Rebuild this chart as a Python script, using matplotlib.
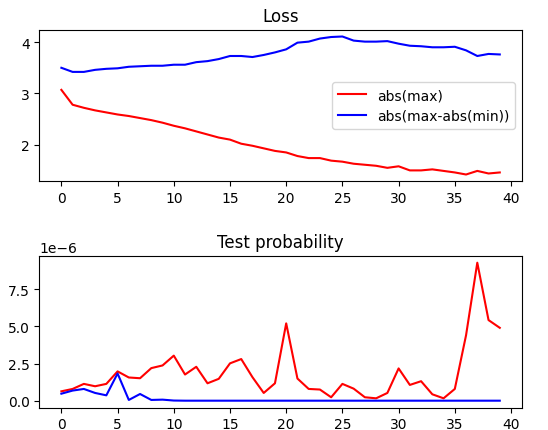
import matplotlib
matplotlib.use("Agg")
import matplotlib.pyplot as plt

epochs = list(range(40))

# Loss curves
loss_max = [3.07, 2.78, 2.72, 2.67, 2.63, 2.59, 2.56, 2.52, 2.48, 2.43,
            2.37, 2.32, 2.26, 2.20, 2.14, 2.10, 2.02, 1.98, 1.93, 1.88,
            1.85, 1.78, 1.74, 1.74, 1.69, 1.67, 1.63, 1.61, 1.59, 1.55,
            1.58, 1.50, 1.50, 1.52, 1.49, 1.46, 1.42, 1.49, 1.44, 1.46]
loss_diff = [3.50, 3.42, 3.42, 3.46, 3.48, 3.49, 3.52, 3.53, 3.54, 3.54,
             3.56, 3.56, 3.61, 3.63, 3.67, 3.73, 3.73, 3.71, 3.75, 3.80,
             3.86, 3.99, 4.01, 4.07, 4.10, 4.11, 4.03, 4.01, 4.01, 4.02,
             3.97, 3.93, 3.92, 3.90, 3.90, 3.91, 3.84, 3.73, 3.77, 3.76]

# Test probability (x 1e-6)
prob_max = [0.63, 0.79, 1.13, 0.97, 1.13, 1.97, 1.56, 1.51, 2.19, 2.37,
            3.03, 1.76, 2.28, 1.17, 1.47, 2.51, 2.80, 1.58, 0.52, 1.17,
            5.20, 1.49, 0.79, 0.75, 0.23, 1.13, 0.81, 0.23, 0.16, 0.52,
            2.17, 1.06, 1.31, 0.43, 0.16, 0.79, 4.40, 9.28, 5.42, 4.90]
prob_diff = [0.47, 0.68, 0.79, 0.52, 0.36, 1.83, 0.05, 0.45, 0.05, 0.07,
             0.01, 0.0, 0.0, 0.0, 0.0, 0.0, 0.0, 0.0, 0.0, 0.0,
             0.0, 0.0, 0.0, 0.0, 0.0, 0.0, 0.0, 0.0, 0.0, 0.0,
             0.0, 0.0, 0.0, 0.0, 0.0, 0.0, 0.0, 0.0, 0.0, 0.0]

fig, (ax1, ax2) = plt.subplots(2, 1, figsize=(5.48, 4.31), dpi=100)
fig.subplots_adjust(left=0.072, right=0.952, top=0.929, bottom=0.052, hspace=0.49)

ax1.plot(epochs, loss_max, color="red", label="abs(max)")
ax1.plot(epochs, loss_diff, color="blue", label="abs(max-abs(min))")
ax1.set_title("Loss")
ax1.legend(loc="center right")

ax2.plot(epochs, [v * 1e-6 for v in prob_max], color="red")
ax2.plot(epochs, [v * 1e-6 for v in prob_diff], color="blue")
ax2.set_title("Test probability")

fig.savefig("out.png", dpi=100)
